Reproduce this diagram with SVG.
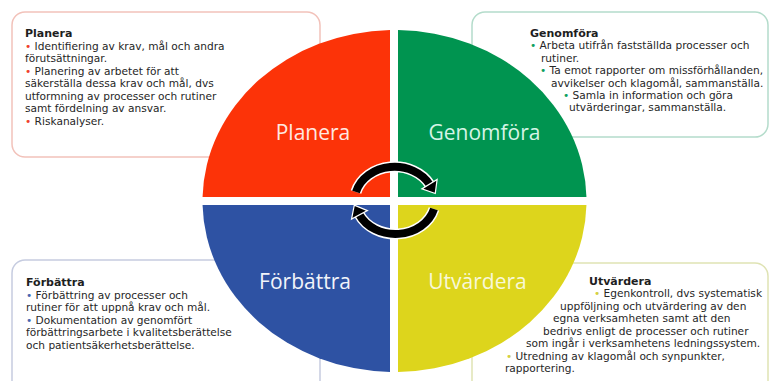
<svg xmlns="http://www.w3.org/2000/svg" width="771" height="381" viewBox="0 0 771 381">
<style>
.box{fill:#fff;stroke-width:1.5}
.t{font-family:"DejaVu Sans","Open Sans",sans-serif;font-size:10.6px;fill:#262626}
.h{font-family:"DejaVu Sans","Open Sans",sans-serif;font-size:11px;font-weight:bold;fill:#1e1e1e}
.big{font-family:"Open Sans","Noto Sans",sans-serif;font-size:21px;text-anchor:middle}
.br{fill:#f0402a}.bg{fill:#10a060}.bb{fill:#4a66b0}.by{fill:#d4d040}
</style>
<defs>
<marker id="ah" markerUnits="userSpaceOnUse" markerWidth="20" markerHeight="24" viewBox="-2 -12 16 24" refX="1" refY="0" orient="auto">
<path d="M0,-9 L11,0 L0,9 Z" fill="#000" stroke="#fff" stroke-width="1.2"/>
</marker>
</defs>
<rect width="771" height="381" fill="#fff"/>
<g id="box-planera">
<rect class="box" x="12" y="12" width="308" height="145" rx="13" stroke="#f2c2ba"/>
<text class="h" x="25" y="37">Planera</text>
<text class="t" x="25" y="49.5"><tspan class="br">•</tspan>  Identifiering av krav, mål och andra</text>
<text class="t" x="25" y="62">förutsättningar.</text>
<text class="t" x="25" y="74.5"><tspan class="br">•</tspan> Planering av arbetet för att</text>
<text class="t" x="25" y="87">säkerställa dessa krav och mål, dvs</text>
<text class="t" x="25" y="99.5">utformning av processer och rutiner</text>
<text class="t" x="25" y="112">samt fördelning av ansvar.</text>
<text class="t" x="25" y="124.5"><tspan class="br">•</tspan> Riskanalyser.</text>
</g>
<g id="box-genomfora">
<rect class="box" x="472" y="12" width="296" height="125" rx="13" stroke="#b4dccb"/>
<text class="h" x="530" y="37">Genomföra</text>
<text class="t" x="530" y="49.4"><tspan class="bg">•</tspan> Arbeta utifrån fastställda processer och</text>
<text class="t" x="541" y="61.8">rutiner.</text>
<text class="t" x="540" y="74.2"><tspan class="bg">•</tspan> Ta emot rapporter om missförhållanden,</text>
<text class="t" x="551" y="86.6">avvikelser och klagomål, sammanställa.</text>
<text class="t" x="563" y="99"><tspan class="bg">•</tspan> Samla in information och göra</text>
<text class="t" x="569" y="111.4">utvärderingar, sammanställa.</text>
</g>
<g id="box-forbattra">
<rect class="box" x="12" y="260" width="308" height="135" rx="13" stroke="#c6cce0"/>
<text class="h" x="26" y="286">Förbättra</text>
<text class="t" x="26" y="298.5"><tspan class="bb">•</tspan> Förbättring av processer och</text>
<text class="t" x="26" y="311">rutiner för att uppnå krav och mål.</text>
<text class="t" x="26" y="323.5"><tspan class="bb">•</tspan> Dokumentation av genomfört</text>
<text class="t" x="26" y="336">förbättringsarbete i kvalitetsberättelse</text>
<text class="t" x="26" y="348.5">och patientsäkerhetsberättelse.</text>
</g>
<g id="box-utvardera">
<rect class="box" x="472" y="263" width="296" height="135" rx="13" stroke="#dfe3b4"/>
<text class="h" x="589" y="284.5">Utvärdera</text>
<text class="t" x="594" y="297"><tspan class="by">•</tspan>  Egenkontroll, dvs systematisk</text>
<text class="t" x="560" y="309.5">uppföljning och utvärdering av den</text>
<text class="t" x="553" y="322">egna verksamheten samt att den</text>
<text class="t" x="543" y="334.5">bedrivs enligt de processer och rutiner</text>
<text class="t" x="526" y="347">som ingår i  verksamhetens ledningssystem.</text>
<text class="t" x="506" y="359.5"><tspan class="by">•</tspan> Utredning av klagomål och synpunkter,</text>
<text class="t" x="505" y="372">rapportering.</text>
</g>
<g id="planera">
<path d="M390 197 L390 30.05 A192 171 0 0 0 202.55 197 Z" fill="#fc3308"/>
<text class="big" x="313" y="140" fill="#ffe8e0">Planera</text>
</g>
<g id="genomfora">
<path d="M398 197 L398 30.05 A192 171 0 0 1 586.45 197 Z" fill="#009450"/>
<text class="big" x="484.5" y="140" fill="#d6f4e6">Genomföra</text>
</g>
<g id="forbattra">
<path d="M390 205 L202.55 205 A192 171 0 0 0 390 371.95 Z" fill="#2e52a3"/>
<text class="big" x="305" y="289" fill="#f2f4fa">Förbättra</text>
</g>
<g id="utvardera">
<path d="M398 205 L398 371.95 A192 171 0 0 0 586.45 205 Z" fill="#ddd51c"/>
<text class="big" x="477.5" y="289" fill="#f8f8d8">Utvärdera</text>
</g>
<g id="connectors" fill="none">
<path d="M356 192 A40 34 0 0 1 430 185" stroke="#fff" stroke-width="11"/>
<path d="M434 209 A40 34 0 0 1 359 214" stroke="#fff" stroke-width="11"/>
<path d="M356 192 A40 34 0 0 1 430 185" stroke="#000" stroke-width="8" marker-end="url(#ah)"/>
<path d="M434 209 A40 34 0 0 1 359 214" stroke="#000" stroke-width="8" marker-end="url(#ah)"/>
</g>
</svg>
